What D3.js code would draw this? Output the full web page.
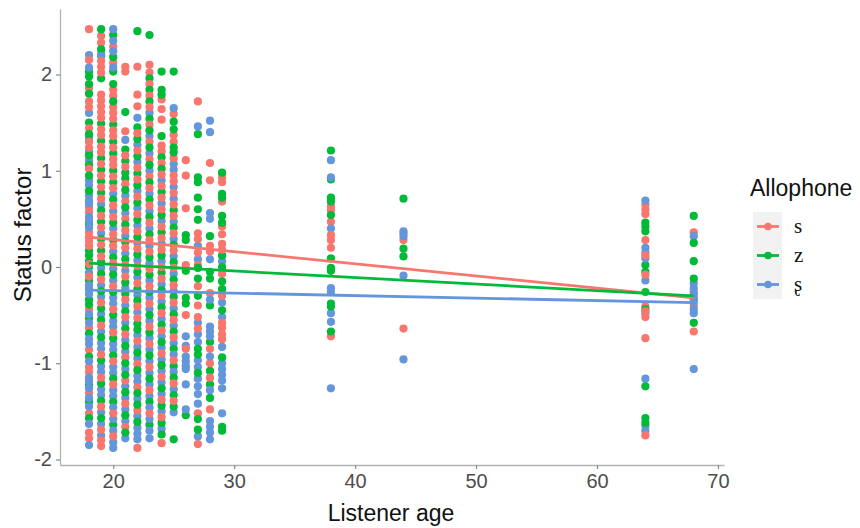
<!DOCTYPE html>
<html>
<head>
<meta charset="utf-8">
<script src="https://cdn.jsdelivr.net/npm/d3@7"></script>
<style>
  body { margin: 0; background: #fff; }
  svg { display: block; }
</style>
</head>
<body>
<svg id="chart" width="860" height="528"></svg>
<script>
// Listener ages (one column of points per age)
const ages = [18, 19, 20, 21, 22, 23, 24, 25, 26, 27, 28, 29, 38, 44, 64, 68];

// Status factor values per age, allophone [s]
const sValues = [
  [2.47, 2.15, 1.86, 1.72, 1.66, 1.44, 1.30, 1.24, 1.02, 0.62, 0.57, 0.36, 0.31, 0.27, 0.22, 0.03, -0.10, -0.44, -0.63, -0.86, -1.04, -1.09, -1.31, -1.52, -1.72, -1.78],
  [2.40, 2.33, 2.14, 2.08, 2.02, 1.79, 1.73, 1.67, 1.61, 1.55, 1.43, 1.37, 1.25, 1.19, 1.07, 0.95, 0.83, 0.71, 0.53, 0.41, 0.23, 0.11, -0.13, -0.37, -0.61, -0.91, -1.15, -1.45, -1.69, -1.80, -1.86],
  [2.29, 2.12, 1.84, 1.78, 1.66, 1.60, 1.54, 1.42, 1.36, 1.24, 1.12, 1.06, 0.94, 0.82, 0.64, 0.52, 0.34, 0.22, 0.04, -0.20, -0.44, -0.68, -0.98, -1.22, -1.52, -1.76],
  [2.08, 2.03, 1.41, 1.16, 1.04, 0.86, 0.68, 0.50, 0.38, 0.20, 0.02, -0.10, -0.34, -0.52, -0.70, -0.94, -1.18, -1.42, -1.66],
  [2.08, 1.79, 1.67, 1.39, 1.21, 1.03, 0.91, 0.73, 0.55, 0.37, 0.19, 0.01, -0.17, -0.41, -0.53, -0.77, -1.01, -1.25, -1.49, -1.88],
  [2.10, 2.02, 1.90, 1.78, 1.66, 1.48, 1.30, 1.12, 0.94, 0.82, 0.64, 0.46, 0.28, 0.16, -0.02, -0.20, -0.38, -0.62, -0.80, -1.04, -1.28, -1.52],
  [1.74, 1.64, 1.53, 1.26, 1.20, 1.08, 0.96, 0.84, 0.72, 0.60, 0.42, 0.30, 0.18, 0.00, -0.12, -0.30, -0.48, -0.66, -0.90, -1.14, -1.38, -1.56, -1.83],
  [1.59, 1.37, 1.30, 1.13, 0.95, 0.89, 0.77, 0.65, 0.53, 0.35, 0.17, -0.01, -0.19, -0.37, -0.55, -0.73, -0.97, -1.21, -1.39],
  [1.11, 0.95, 0.61, 0.02, -0.50, -0.85],
  [1.72, 0.35, 0.29, 0.15, 0.02, -0.20, -0.40, -0.52, -0.64, -1.52, -1.84],
  [1.08, 0.90, 0.22, 0.16, -0.27, -0.85, -1.00, -1.15, -1.48],
  [0.93, 0.88, 0.68, 0.42, 0.34, 0.24, 0.18, -0.07, -0.30, -0.58, -0.63, -0.70, -0.75],
  [0.63, 0.59, 0.47, 0.33, 0.28, 0.20, -0.72],
  [0.35, 0.28, -0.64],
  [0.65, 0.60, 0.55, 0.28, 0.12, -0.08, -0.41, -0.46, -0.52, -0.74, -1.75],
  [0.36, -0.28, -0.40, -0.67]
];

// Status factor values per age, allophone [z]
const zValues = [
  [2.03, 1.98, 1.90, 1.80, 1.50, 1.38, 1.16, 1.06, 0.95, 0.79, 0.45, 0.17, 0.12, 0.06, 0.00, -0.14, -0.34, -0.39, -0.53, -0.69, -0.93, -1.22, -1.40, -1.57],
  [2.47, 2.26, 1.96, 1.49, 1.31, 1.13, 1.01, 0.89, 0.77, 0.59, 0.47, 0.29, 0.17, 0.05, -0.07, -0.25, -0.43, -0.55, -0.73, -0.97, -1.21, -1.39, -1.57],
  [2.41, 2.18, 2.03, 1.90, 1.72, 1.48, 1.30, 1.18, 1.00, 0.88, 0.70, 0.46, 0.28, 0.10, -0.08, -0.26, -0.50, -0.74, -0.92, -1.16, -1.40, -1.64],
  [1.61, 1.22, 1.10, 0.98, 0.92, 0.80, 0.62, 0.44, 0.26, 0.08, -0.16, -0.28, -0.46, -0.64, -0.82, -1.00, -1.12, -1.30, -1.54, -1.72],
  [2.45, 1.45, 1.33, 1.15, 0.97, 0.85, 0.67, 0.49, 0.31, 0.13, -0.05, -0.23, -0.35, -0.59, -0.65, -0.89, -1.07, -1.31, -1.43, -1.61],
  [2.41, 1.96, 1.84, 1.72, 1.54, 1.42, 1.24, 1.06, 0.88, 0.70, 0.52, 0.34, 0.10, -0.08, -0.26, -0.50, -0.68, -0.92, -1.16, -1.40, -1.64],
  [2.03, 1.84, 1.79, 1.36, 1.14, 1.02, 0.78, 0.54, 0.36, 0.12, -0.06, -0.24, -0.42, -0.60, -0.78, -1.02, -1.26, -1.44, -1.62, -1.74],
  [2.03, 1.51, 1.43, 1.24, 1.19, 0.59, 0.41, 0.23, 0.05, -0.13, -0.31, -0.49, -0.67, -0.85, -1.03, -1.15, -1.33, -1.45, -1.79],
  [0.33, 0.28, -0.04, -0.32, -0.38, -1.54],
  [1.38, 0.93, 0.88, 0.72, 0.60, 0.49, -0.01, -0.12, -0.30, -0.85, -0.91, -1.10, -1.58, -1.69],
  [0.32, -0.05, -0.12, -0.40, -0.78, -1.08, -1.22, -1.36],
  [0.98, 0.76, 0.72, 0.53, 0.46, 0.12, 0.00, -0.15, -0.23, -0.45, -0.94, -1.66, -1.70],
  [1.21, 0.91, 0.72, 0.68, 0.54, 0.09, -0.01, -0.04, -0.38, -0.41, -0.67],
  [0.71, 0.19, 0.11],
  [0.46, 0.42, 0.37, 0.02, -0.05, -0.26, -0.44, -1.24, -1.57, -1.62],
  [0.53, 0.25, 0.06, -0.12, -0.34, -0.58]
];

// Status factor values per age, allophone [ʂ]
const shValues = [
  [2.20, 2.07, 1.60, 1.34, 1.20, 1.11, 0.90, 0.85, 0.74, 0.69, 0.66, 0.52, 0.48, 0.41, -0.06, -0.19, -0.23, -0.28, -0.49, -0.58, -0.75, -0.80, -0.98, -1.15, -1.19, -1.26, -1.36, -1.45, -1.63, -1.85],
  [2.21, 2.19, 0.65, 0.35, -0.01, -0.19, -0.31, -0.49, -0.67, -0.79, -0.85, -1.03, -1.09, -1.27, -1.33, -1.51, -1.63, -1.75],
  [2.47, 2.35, 2.24, 2.07, 0.76, 0.58, 0.40, 0.16, -0.02, -0.14, -0.32, -0.38, -0.56, -0.62, -0.80, -0.86, -1.04, -1.10, -1.28, -1.34, -1.46, -1.58, -1.70, -1.82, -1.88],
  [1.32, 0.74, 0.56, 0.32, 0.14, -0.04, -0.22, -0.40, -0.58, -0.76, -0.88, -1.06, -1.24, -1.36, -1.48, -1.60, -1.78],
  [1.55, 1.27, 1.09, 0.79, 0.61, 0.43, 0.25, 0.07, -0.11, -0.29, -0.47, -0.71, -0.83, -0.95, -1.13, -1.19, -1.37, -1.55, -1.67, -1.73, -1.79],
  [1.60, 1.36, 1.18, 1.00, 0.76, 0.58, 0.40, 0.22, 0.04, -0.14, -0.32, -0.44, -0.56, -0.74, -0.86, -0.98, -1.10, -1.22, -1.34, -1.46, -1.58, -1.70, -1.78],
  [0.90, 0.66, 0.48, 0.24, 0.06, -0.18, -0.36, -0.54, -0.72, -0.84, -0.96, -1.08, -1.20, -1.32, -1.50, -1.68],
  [1.65, 1.07, 1.01, 0.83, 0.71, 0.47, 0.29, 0.11, -0.07, -0.25, -0.43, -0.61, -0.79, -0.91, -1.09, -1.27, -1.51],
  [-0.72, -0.82, -0.93, -0.98, -1.03, -1.06, -1.22, -1.48],
  [1.46, 0.22, 0.08, -0.58, -0.70, -0.78, -0.97, -1.04, -1.16, -1.24, -1.32, -1.42, -1.76],
  [1.52, 1.40, 0.56, 0.50, 0.08, -0.34, -0.62, -0.67, -0.72, -0.93, -1.28, -1.60, -1.66, -1.72, -1.79],
  [0.06, -0.37, -0.52, -0.83, -1.00, -1.06, -1.12, -1.18, -1.26, -1.52],
  [1.11, 0.93, 0.40, -0.22, -0.26, -0.48, -0.57, -1.26],
  [0.37, 0.32, -0.09, -0.96],
  [0.69, 0.20, 0.15, 0.09, -0.14, -0.48, -1.16, -1.65, -1.70],
  [0.32, -0.17, -0.22, -0.26, -0.31, -0.36, -0.44, -0.48, -1.06]
];

// Linear fit per allophone, evaluated at the youngest and oldest listener
const fitAges = [18, 68];
const sFit = [0.31, -0.32];
const zFit = [0.04, -0.30];
const shFit = [-0.24, -0.37];

const seriesNames = ["s", "z", "ʂ"];
const seriesColors = ["#F8766D", "#00BA38", "#6396DB"];
const xTicks = [20, 30, 40, 50, 60, 70];
const yTicks = [-2, -1, 0, 1, 2];

const seriesValues = [sValues, zValues, shValues];
const seriesFits = [sFit, zFit, shFit];

const svg = d3.select("#chart");
const sansFont = "'Liberation Sans', Arimo, Arial, sans-serif";
const pointRadius = 4.1;

const x = d3.scaleLinear().domain([15.6, 70.5]).range([60, 724]);
const y = d3.scaleLinear().domain([-2.057, 2.68]).range([465, 9]);

// Points: interleave the three allophones within each age column
const points = [];
ages.forEach((age, i) => {
  const n = d3.max(seriesValues, sv => sv[i].length);
  for (let k = 0; k < n; k++) {
    seriesValues.forEach((sv, s) => {
      if (k < sv[i].length) points.push({ age, value: sv[i][k], s });
    });
  }
});

svg.append("g")
  .selectAll("circle")
  .data(points)
  .join("circle")
  .attr("cx", d => x(d.age))
  .attr("cy", d => y(d.value))
  .attr("r", pointRadius)
  .attr("fill", d => seriesColors[d.s]);

// Regression lines
const line = d3.line().x(d => x(d[0])).y(d => y(d[1]));
svg.append("g")
  .selectAll("path")
  .data(seriesFits)
  .join("path")
  .attr("d", f => line(fitAges.map((a, j) => [a, f[j]])))
  .attr("fill", "none")
  .attr("stroke", (f, i) => seriesColors[i])
  .attr("stroke-width", 2.8);

// Axes
const xAxis = svg.append("g")
  .attr("transform", "translate(0,465)")
  .call(d3.axisBottom(x).tickValues(xTicks).tickSize(4).tickSizeOuter(0).tickPadding(5).tickFormat(d => String(d)));
const yAxis = svg.append("g")
  .attr("transform", "translate(60,0)")
  .call(d3.axisLeft(y).tickValues(yTicks).tickSize(4).tickSizeOuter(0).tickPadding(4).tickFormat(d => String(d)));

[xAxis, yAxis].forEach(g => {
  g.select(".domain").attr("stroke", "#b3b3b3").attr("stroke-width", 1.3);
  g.selectAll(".tick line").attr("stroke", "#8a8a8a").attr("stroke-width", 1.2);
  g.selectAll(".tick text")
    .attr("fill", "#4d4d4d")
    .style("font-family", sansFont)
    .style("font-size", "20px");
});

// Axis titles
svg.append("text")
  .attr("x", 391)
  .attr("y", 521)
  .attr("text-anchor", "middle")
  .style("font-family", sansFont)
  .style("font-size", "23px")
  .attr("fill", "#111")
  .text("Listener age");

svg.append("text")
  .attr("transform", "translate(31,235) rotate(-90)")
  .attr("text-anchor", "middle")
  .style("font-family", sansFont)
  .style("font-size", "24px")
  .attr("fill", "#111")
  .text("Status factor");

// Legend
const legend = svg.append("g");
legend.append("text")
  .attr("x", 750)
  .attr("y", 196)
  .style("font-family", sansFont)
  .style("font-size", "23px")
  .attr("fill", "#111")
  .text("Allophone");

legend.append("rect")
  .attr("x", 753).attr("y", 212)
  .attr("width", 29).attr("height", 87)
  .attr("fill", "#f2f2f2");

const keyY = d3.scaleBand().domain(seriesNames).range([212, 299]);
const keys = legend.selectAll("g.key")
  .data(seriesNames)
  .join("g")
  .attr("class", "key")
  .attr("transform", d => `translate(0,${keyY(d) + keyY.bandwidth() / 2})`);

keys.append("line")
  .attr("x1", 757).attr("x2", 779)
  .attr("stroke", (d, i) => seriesColors[i])
  .attr("stroke-width", 2.8);
keys.append("circle")
  .attr("cx", 768).attr("r", 3.8)
  .attr("fill", (d, i) => seriesColors[i]);
keys.append("text")
  .attr("x", 794)
  .attr("y", 6)
  .style("font-family", "'Liberation Serif', 'DejaVu Serif', serif")
  .style("font-size", "21px")
  .attr("fill", "#111")
  .text(d => d);
</script>
</body>
</html>
